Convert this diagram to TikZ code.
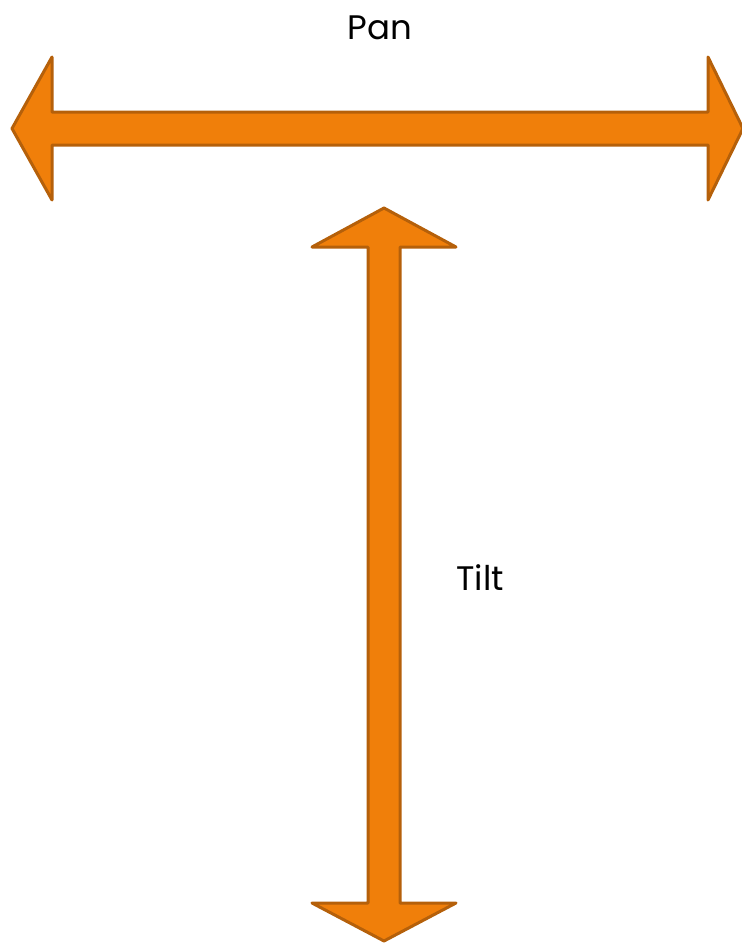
\documentclass[tikz,border=0pt]{standalone}
\usepackage{fontspec}
\setmainfont{Poppins}
\definecolor{arrfill}{HTML}{F07F0A}
\definecolor{arrdraw}{HTML}{B5600A}
\begin{document}
\begin{tikzpicture}[x=1pt,y=-1pt,
  bigarrow/.style={fill=arrfill,draw=arrdraw,line width=3pt,line join=round},
  lbl/.style={font=\fontsize{34}{40}\selectfont,inner sep=0pt}]
\useasboundingbox (0,0) rectangle (742,943);
% horizontal double arrow (Pan)
\path[bigarrow] (12,128.5) -- (52,57) -- (52,112) -- (708,112) -- (708,57) -- (743,128.5)
  -- (708,200) -- (708,145) -- (52,145) -- (52,200) -- cycle;
% vertical double arrow (Tilt)
\path[bigarrow] (384,208) -- (456,247) -- (400,247) -- (400,903) -- (456,903) -- (384,941)
  -- (312,903) -- (368,903) -- (368,247) -- (312,247) -- cycle;
\node[lbl] (pan) at (380,28) {Pan};
\node[lbl] (tilt) at (480,578) {Tilt};
\end{tikzpicture}
\end{document}
